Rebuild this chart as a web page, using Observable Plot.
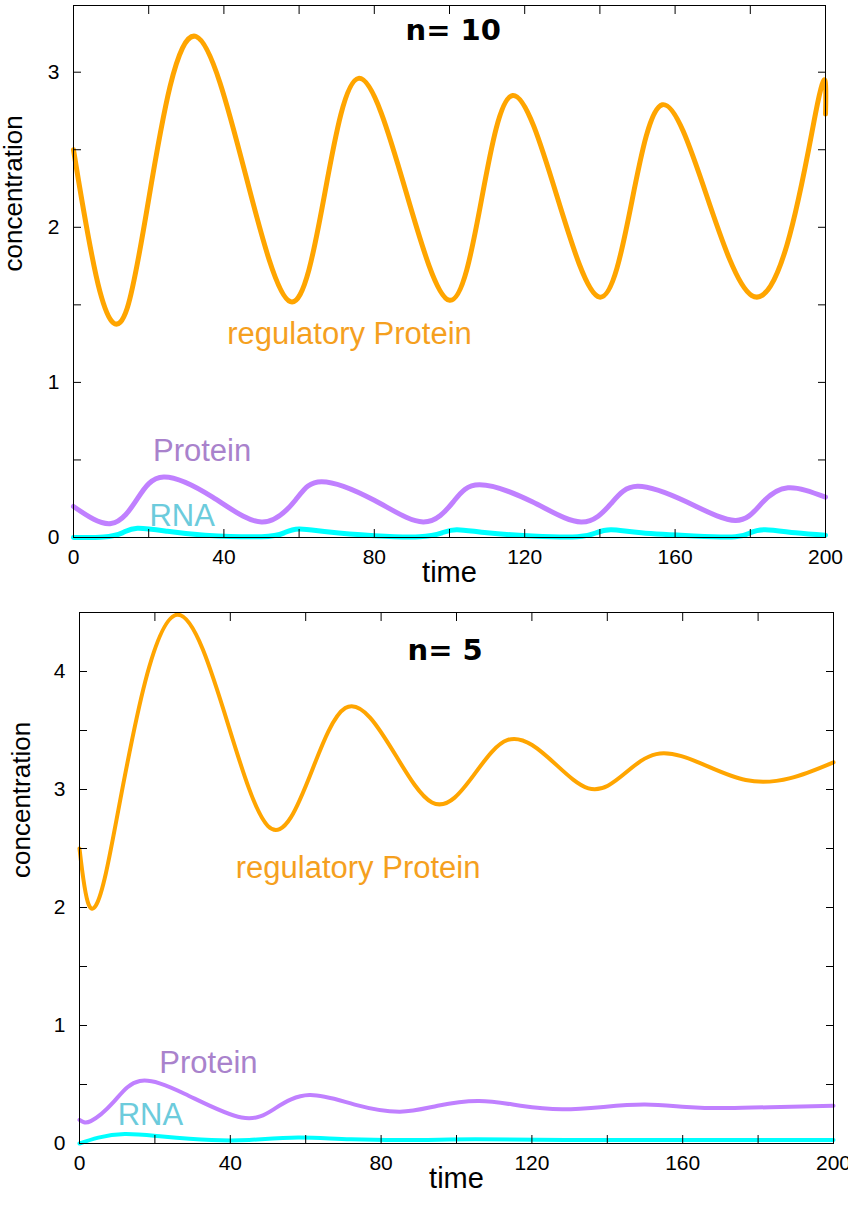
<!DOCTYPE html>
<html><head><meta charset="utf-8">
<script src="https://cdn.jsdelivr.net/npm/d3@7"></script>
<script src="https://cdn.jsdelivr.net/npm/@observablehq/plot@0.6"></script>
<style>
body{margin:0;background:#fff;font-family:"Liberation Sans",Arial,sans-serif}
#wrap{position:relative;width:848px;height:1210px}
#top{position:absolute;left:0;top:0}
#bot{position:absolute;left:0;top:600px}
</style></head><body>
<div id="wrap"><div id="top"></div><div id="bot"></div></div>
<script>
// n = 10
const regT10 = [0,14.3,32.6,57.7,75.8,99.9,116.8,139.9,156.6,180.4,197.4,200]
const regV10 = [2.5,1.48,3.23,1.52,2.96,1.53,2.85,1.55,2.79,1.56,2.74,2.73]
const protT10 = [0,10,17,24,37,50,59,66,80,93,101,108,122,135,143,150,163,176,183,190,200]
const protV10 = [0.2,0.09,0.25,0.39,0.26,0.10,0.24,0.36,0.24,0.10,0.23,0.34,0.23,0.10,0.22,0.33,0.23,0.11,0.22,0.32,0.26]
const rnaT10 = [0,8,13,17,25,35,50,56,60,68,80,92,98,102,110,122,134,139,143,151,165,176,180,184,192,200]
const rnaV10 = [0,0.003,0.03,0.06,0.04,0.015,0.005,0.03,0.055,0.035,0.012,0.005,0.03,0.05,0.03,0.01,0.005,0.03,0.05,0.03,0.01,0.005,0.03,0.05,0.03,0.015]
// n = 5
const regT5 = [0,7,26,50,70.5,93.5,113.6,135,153,176.7,200]
const regV5 = [2.5,2.29,4.48,2.69,3.69,2.89,3.42,3.01,3.30,3.08,3.23]
const protT5 = [0,3,9,16,28,43,52,61,73,85,95,106,117,128,139,150,161,172,186,200]
const protV5 = [0.2,0.19,0.35,0.53,0.42,0.22,0.3,0.41,0.33,0.27,0.32,0.36,0.32,0.29,0.31,0.33,0.31,0.30,0.31,0.32]
const rnaT5 = [0,5,12,22,35,45,58,72,90,105,130,160,200]
const rnaV5 = [0,0.05,0.08,0.06,0.03,0.03,0.05,0.035,0.03,0.035,0.03,0.03,0.03]

const xTicks = d3.range(0, 201, 20)
const xLabels = d3.range(0, 201, 40)

const zip = (t, v) => t.map((d, i) => ({t: d, v: v[i]}))

function chart(o) {
  const yTicks = d3.range(0, o.ymax + 0.001, 0.5)
  const yLabels = d3.range(0, o.ymax + 0.001, 1)
  const lbl = {fontSize: 31, fontWeight: 500, fontFamily: "Liberation Sans, Arial, sans-serif"}
  return Plot.plot({
    width: 848, height: o.height,
    marginLeft: o.ml, marginRight: o.mr, marginTop: o.mt, marginBottom: o.mb,
    x: {domain: [0, 200]},
    y: {domain: [0, o.ymax]},
    style: {fontFamily: "Liberation Sans, Arial, sans-serif", fontSize: "18px", color: "#000"},
    marks: [
      Plot.line(zip(o.reg[0], o.reg[1]), {x: "t", y: "v", stroke: "#ffa500", strokeWidth: o.sw, curve: "natural"}),
      Plot.line(zip(o.prot[0], o.prot[1]), {x: "t", y: "v", stroke: "#c080ff", strokeWidth: o.sw, curve: "natural"}),
      Plot.line(zip(o.rna[0], o.rna[1]), {x: "t", y: "v", stroke: "#00ffff", strokeWidth: o.sw, curve: "natural"}),
      Plot.frame({stroke: "#000"}),
      Plot.axisX(xTicks, {anchor: "bottom", tickSize: -8, tickFormat: () => "", label: null}),
      Plot.axisX(xTicks, {anchor: "top", tickSize: -8, tickFormat: () => "", label: null}),
      Plot.axisX(xLabels, {anchor: "bottom", tickSize: 0, tickPadding: 12, label: null, fontSize: 21, tickFormat: d3.format("d")}),
      Plot.axisY(yTicks, {anchor: "left", tickSize: -8, tickFormat: () => "", label: null}),
      Plot.axisY(yTicks, {anchor: "right", tickSize: -8, tickFormat: () => "", label: null}),
      Plot.axisY(yLabels, {anchor: "left", tickSize: 0, tickPadding: 14, label: null, fontSize: 21, tickFormat: d3.format("d")}),
      Plot.text(["time"], {frameAnchor: "bottom", dy: 44, fontSize: 29}),
      Plot.text(["concentration"], {frameAnchor: "left", dx: o.ylx, rotate: -90, fontSize: 26}),
      Plot.text([o.title], {x: o.tpos[0], y: o.tpos[1], fontSize: 29, fontWeight: "bold", fontFamily: "DejaVu Sans, sans-serif"}),
      Plot.text(["regulatory Protein"], {x: o.rpos[0], y: o.rpos[1], fill: "#f5a01e", ...lbl}),
      Plot.text(["Protein"], {x: o.ppos[0], y: o.ppos[1], fill: "#a982cc", ...lbl}),
      Plot.text(["RNA"], {x: o.npos[0], y: o.npos[1], fill: "#6ccbdc", ...lbl})
    ]
  })
}

document.getElementById("top").append(chart({
  height: 595, ml: 73, mr: 23, mt: 5, mb: 58, ymax: 3.43, sw: 5, ylx: -60,
  reg: [regT10, regV10], prot: [protT10, protV10], rna: [rnaT10, rnaV10],
  title: "n= 10", tpos: [101, 3.27], rpos: [73.4, 1.31], ppos: [34.2, 0.56], npos: [28.9, 0.14]
}))
document.getElementById("bot").append(chart({
  height: 610, ml: 79, mr: 15, mt: 12, mb: 67, ymax: 4.5, sw: 4, ylx: -58,
  reg: [regT5, regV5], prot: [protT5, protV5], rna: [rnaT5, rnaV5],
  title: "n= 5", tpos: [97, 4.18], rpos: [73.9, 2.33], ppos: [34.2, 0.68], npos: [18.8, 0.24]
}))
</script>
</body></html>
